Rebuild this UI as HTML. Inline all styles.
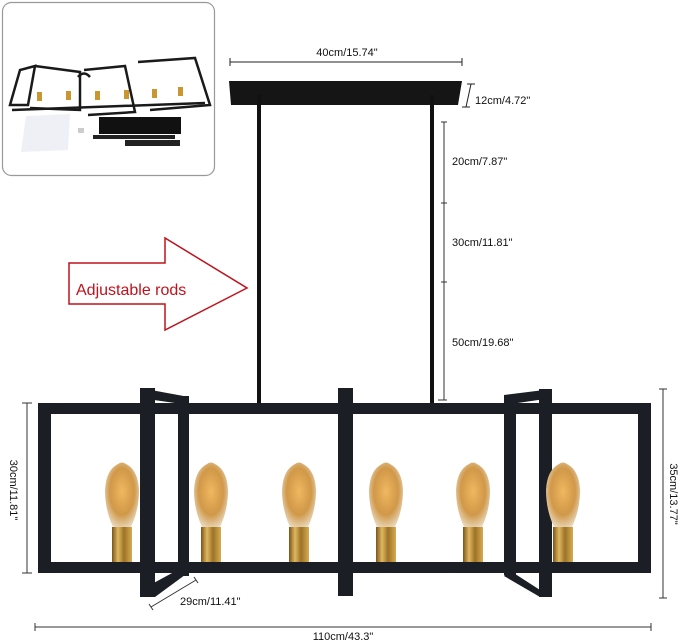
<!DOCTYPE html>
<html><head><meta charset="utf-8"><style>
html,body{margin:0;padding:0;background:#fff;}
svg{display:block;font-family:"Liberation Sans",sans-serif;}
</style></head><body>
<svg width="679" height="642" viewBox="0 0 679 642" xmlns="http://www.w3.org/2000/svg">
<defs>
<radialGradient id="bulb" cx="50%" cy="45%" r="60%">
<stop offset="0" stop-color="#f0b860"/><stop offset="0.6" stop-color="#d09848"/><stop offset="1" stop-color="#eadcc4"/>
</radialGradient>
<linearGradient id="brass" x1="0" x2="1">
<stop offset="0" stop-color="#7a5518"/><stop offset="0.3" stop-color="#e0b860"/><stop offset="0.6" stop-color="#9c7228"/><stop offset="1" stop-color="#d8ac50"/>
</linearGradient>
</defs>
<!-- inset -->
<rect x="2.5" y="2.5" width="212" height="173" rx="9" fill="#fff" stroke="#999" stroke-width="1.2"/>
<g fill="none" stroke="#1a1a1a" stroke-width="2.5">
<path d="M10 105 L20 70 L35 66 L28 105 Z"/>
<path d="M35 66 L80 72 L80 110 L30 108"/>
<path d="M84 70 L125 66 L135 112 L88 115"/>
<path d="M138 62 L195 58 L210 105 L150 110"/>
<path d="M12 110 L205 103"/>
<path d="M78 77 Q84 70 90 77"/>
</g>
<g fill="#c9962f"><rect x="37" y="92" width="5" height="9"/><rect x="66" y="91" width="5" height="9"/><rect x="95" y="91" width="5" height="9"/><rect x="124" y="90" width="5" height="9"/><rect x="152" y="89" width="5" height="9"/><rect x="178" y="87" width="5" height="9"/></g>
<polygon points="26,116 70,114 68,150 21,152" fill="#eef0f5"/>
<rect x="99" y="117" width="82" height="17" fill="#111"/>
<rect x="93" y="135" width="82" height="4" fill="#222"/>
<rect x="125" y="140" width="55" height="6" fill="#222"/>
<rect x="78" y="128" width="6" height="5" fill="#ccc"/>
<!-- top dim -->
<g stroke="#222" stroke-width="1"><line x1="230" y1="62" x2="462" y2="62"/><line x1="230" y1="58" x2="230" y2="66"/><line x1="462" y1="58" x2="462" y2="66"/></g>
<text x="347" y="56" font-size="11" text-anchor="middle" fill="#111">40cm/15.74"</text>
<!-- canopy -->
<polygon points="229,81 462,81 458,105 231,105" fill="#151515"/>
<g stroke="#222" stroke-width="1"><line x1="471" y1="84" x2="466" y2="107"/><line x1="467" y1="84" x2="475" y2="84"/><line x1="462" y1="107" x2="470" y2="107"/></g>
<text x="475" y="104" font-size="11" fill="#111">12cm/4.72"</text>
<!-- rods -->
<rect x="257" y="95" width="4" height="312" fill="#111"/>
<rect x="430" y="95" width="4" height="312" fill="#111"/>
<!-- vertical dim -->
<g stroke="#333" stroke-width="1"><line x1="444" y1="122" x2="444" y2="400"/><line x1="441" y1="122" x2="447" y2="122"/><line x1="441" y1="203" x2="447" y2="203"/><line x1="441" y1="282" x2="447" y2="282"/><line x1="438" y1="400" x2="447" y2="400"/></g>
<g font-size="11" fill="#111"><text x="452" y="165">20cm/7.87"</text><text x="452" y="246">30cm/11.81"</text><text x="452" y="346">50cm/19.68"</text></g>
<!-- arrow -->
<polygon points="69,263 165,263 165,238 247,288 165,330 165,304 69,304" fill="#fff" stroke="#c0121c" stroke-width="1.5"/>
<text x="76" y="295" font-size="16" fill="#c0121c">Adjustable rods</text>
<!-- frame -->
<g fill="#1b1e24">
<rect x="38" y="403" width="613" height="11"/>
<rect x="38" y="562" width="613" height="11"/>
<rect x="38" y="403" width="13" height="170"/>
<rect x="638" y="403" width="13" height="170"/>
<rect x="140" y="388" width="15" height="209"/>
<rect x="178" y="396" width="11" height="180"/>
<polygon points="140,388 189,397 189,405 140,398"/>
<polygon points="150,585 185,566 189,572 155,597"/>
<rect x="338" y="388" width="15" height="208"/>
<rect x="539" y="389" width="13" height="208"/>
<rect x="504" y="395" width="12" height="180"/>
<polygon points="504,395 552,389 552,398 504,405"/>
<polygon points="509,570 540,590 540,597 504,576"/>
</g>
<!-- bulbs -->
<g>
<g transform="translate(122,0)"><path d="M-4 464 Q0 461 4 464 Q16 470 17 490 Q17 510 9 527 L-9 527 Q-17 510 -17 490 Q-16 470 -4 464Z" fill="url(#bulb)"/><rect x="-10" y="527" width="20" height="35" fill="url(#brass)"/></g>
<g transform="translate(211,0)"><path d="M-4 464 Q0 461 4 464 Q16 470 17 490 Q17 510 9 527 L-9 527 Q-17 510 -17 490 Q-16 470 -4 464Z" fill="url(#bulb)"/><rect x="-10" y="527" width="20" height="35" fill="url(#brass)"/></g>
<g transform="translate(299,0)"><path d="M-4 464 Q0 461 4 464 Q16 470 17 490 Q17 510 9 527 L-9 527 Q-17 510 -17 490 Q-16 470 -4 464Z" fill="url(#bulb)"/><rect x="-10" y="527" width="20" height="35" fill="url(#brass)"/></g>
<g transform="translate(386,0)"><path d="M-4 464 Q0 461 4 464 Q16 470 17 490 Q17 510 9 527 L-9 527 Q-17 510 -17 490 Q-16 470 -4 464Z" fill="url(#bulb)"/><rect x="-10" y="527" width="20" height="35" fill="url(#brass)"/></g>
<g transform="translate(473,0)"><path d="M-4 464 Q0 461 4 464 Q16 470 17 490 Q17 510 9 527 L-9 527 Q-17 510 -17 490 Q-16 470 -4 464Z" fill="url(#bulb)"/><rect x="-10" y="527" width="20" height="35" fill="url(#brass)"/></g>
<g transform="translate(563,0)"><path d="M-4 464 Q0 461 4 464 Q16 470 17 490 Q17 510 9 527 L-9 527 Q-17 510 -17 490 Q-16 470 -4 464Z" fill="url(#bulb)"/><rect x="-10" y="527" width="20" height="35" fill="url(#brass)"/></g>
</g>
<!-- side dims -->
<g stroke="#333" stroke-width="1">
<line x1="27" y1="403" x2="27" y2="573"/><line x1="22" y1="403" x2="32" y2="403"/><line x1="22" y1="573" x2="32" y2="573"/>
<line x1="663" y1="389" x2="663" y2="598"/><line x1="659" y1="389" x2="667" y2="389"/><line x1="659" y1="598" x2="667" y2="598"/>
<line x1="151" y1="607" x2="196" y2="580"/><line x1="149" y1="604" x2="153" y2="610"/><line x1="194" y1="577" x2="198" y2="583"/>
<line x1="35" y1="627" x2="651" y2="627"/><line x1="35" y1="623" x2="35" y2="631"/><line x1="651" y1="623" x2="651" y2="631"/>
</g>
<g font-size="11" fill="#111">
<text transform="translate(10,490) rotate(90)" text-anchor="middle">30cm/11.81"</text>
<text transform="translate(670,494) rotate(90)" text-anchor="middle">35cm/13.77"</text>
<text x="180" y="605">29cm/11.41"</text>
<text x="343" y="640" text-anchor="middle">110cm/43.3"</text>
</g>
</svg>
</body></html>
